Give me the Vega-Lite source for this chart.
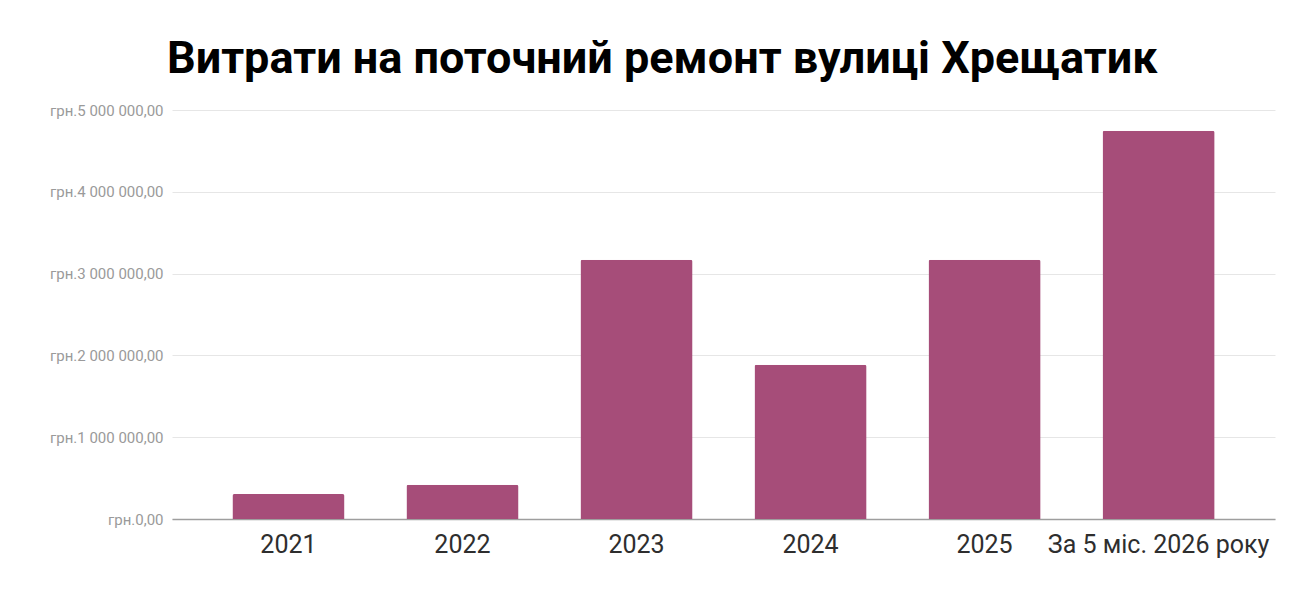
{
  "$schema": "https://vega.github.io/schema/vega-lite/v6.json",
  "autosize": "none",
  "width": 1103,
  "height": 409,
  "padding": {"left": 172, "top": 110, "right": 19, "bottom": 81},
  "background": "#ffffff",
  "title": {
    "text": "Витрати на поточний ремонт вулиці Хрещатик",
    "font": "Roboto",
    "fontSize": 45,
    "fontWeight": "bold",
    "color": "#000000",
    "anchor": "middle",
    "frame": "bounds",
    "offset": 21
  },
  "data": {
    "values": [
      {"period": "2021", "amount": 305000},
      {"period": "2022", "amount": 420000},
      {"period": "2023", "amount": 3170000},
      {"period": "2024", "amount": 1885000},
      {"period": "2025", "amount": 3170000},
      {"period": "За 5 міс. 2026 року", "amount": 4745000}
    ]
  },
  "mark": {"type": "bar", "color": "#a64d79", "cornerRadiusTopLeft": 2, "cornerRadiusTopRight": 2},
  "encoding": {
    "x": {
      "field": "period",
      "type": "nominal",
      "sort": null,
      "title": null,
      "scale": {"paddingInner": 0.356, "paddingOuter": 0.347},
      "axis": {
        "labelAngle": 0,
        "labelFont": "Roboto",
        "labelFontSize": 25,
        "labelFontWeight": "normal",
        "labelColor": "#2e2e2e",
        "labelPadding": 13,
        "labelLimit": 0,
        "labelOverlap": false,
        "ticks": false,
        "domainColor": "#9e9e9e",
        "domainWidth": 1.5,
        "grid": false
      }
    },
    "y": {
      "field": "amount",
      "type": "quantitative",
      "title": null,
      "scale": {"domain": [0, 5000000], "nice": false},
      "axis": {
        "values": [0, 1000000, 2000000, 3000000, 4000000, 5000000],
        "labelExpr": "'грн.' + replace(replace(format(datum.value, ',.2f'), regexp(',', 'g'), ' '), '.', ',')",
        "labelFont": "Roboto",
        "labelFontSize": 15,
        "labelColor": "#9a9a9a",
        "labelPadding": 9,
        "labelLimit": 0,
        "ticks": false,
        "domain": false,
        "gridColor": "#e6e6e6",
        "gridWidth": 1
      }
    }
  },
  "config": {"view": {"stroke": null}}
}
